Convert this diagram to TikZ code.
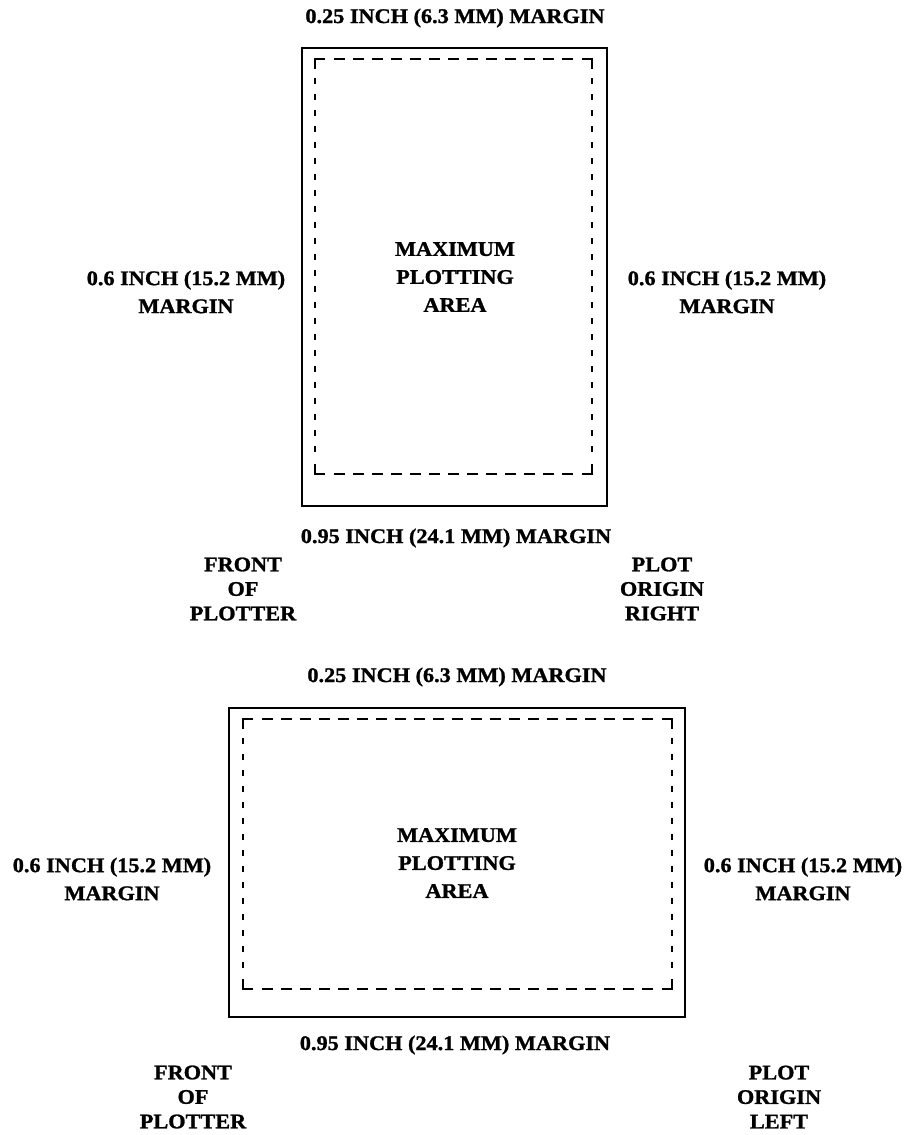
\documentclass[tikz,border=0pt]{standalone}
\usepackage{fontspec}
\newfontfamily\lab[FakeStretch=1.07,FakeBold=1.2]{Liberation Serif Bold}
\begin{document}
\begin{tikzpicture}[x=1pt,y=-1pt,
  lbl/.style={font=\lab\fontsize{20.8}{28}\selectfont, align=center, inner sep=0pt, anchor=center},
  lblt/.style={font=\lab\fontsize{20.8}{24.5}\selectfont, align=center, inner sep=0pt, anchor=center},
  outer/.style={draw=black, line width=1.8pt},
  hdash/.style={draw=black, line width=1.6pt, dash pattern=on 11pt off 8pt},
  vdash/.style={draw=black, line width=1.4pt, dash pattern=on 6pt off 10pt},
  corner/.style={draw=black, line width=1.6pt}]
\useasboundingbox (0,0) rectangle (907,1135);
\fill[white] (0,0) rectangle (907,1135);

% ---------- top diagram ----------
\draw[outer] (302,48) rectangle (607,506);
\draw[corner] (315,69) -- (315,59) -- (325,59);
\draw[corner] (582,59) -- (592,59) -- (592,69);
\draw[corner] (315,464) -- (315,474) -- (325,474);
\draw[corner] (582,474) -- (592,474) -- (592,464);
\draw[hdash] (334,59) -- (576,59);
\draw[hdash] (334,474) -- (576,474);
\draw[vdash] (315,78) -- (315,458);
\draw[vdash] (592,78) -- (592,458);

\node[lbl] (t1top) at (455,18) {0.25 INCH (6.3 MM) MARGIN};
\node[lbl] (t1area) at (455,277) {MAXIMUM\\PLOTTING\\AREA};
\node[lbl] (t1left) at (186,292) {0.6 INCH (15.2 MM)\\MARGIN};
\node[lbl] (t1right) at (727,292) {0.6 INCH (15.2 MM)\\MARGIN};
\node[lbl] (t1bot) at (456,538) {0.95 INCH (24.1 MM) MARGIN};
\node[lblt] (t1front) at (243,589) {FRONT\\OF\\PLOTTER};
\node[lblt] (t1origin) at (662,589) {PLOT\\ORIGIN\\RIGHT};

% ---------- bottom diagram ----------
\draw[outer] (229,708) rectangle (685,1017);
\draw[corner] (243,729) -- (243,719) -- (253,719);
\draw[corner] (662,719) -- (672,719) -- (672,729);
\draw[corner] (243,979) -- (243,989) -- (253,989);
\draw[corner] (662,989) -- (672,989) -- (672,979);
\draw[hdash] (262,719) -- (656,719);
\draw[hdash] (262,989) -- (656,989);
\draw[vdash] (243,738) -- (243,973);
\draw[vdash] (672,738) -- (672,973);

\node[lbl] (t2top) at (457,677) {0.25 INCH (6.3 MM) MARGIN};
\node[lbl] (t2area) at (457,863) {MAXIMUM\\PLOTTING\\AREA};
\node[lbl] (t2left) at (112,879) {0.6 INCH (15.2 MM)\\MARGIN};
\node[lbl] (t2right) at (803,879) {0.6 INCH (15.2 MM)\\MARGIN};
\node[lbl] (t2bot) at (455,1045) {0.95 INCH (24.1 MM) MARGIN};
\node[lblt] (t2front) at (193,1097) {FRONT\\OF\\PLOTTER};
\node[lblt] (t2origin) at (779,1097) {PLOT\\ORIGIN\\LEFT};
\end{tikzpicture}
\end{document}
